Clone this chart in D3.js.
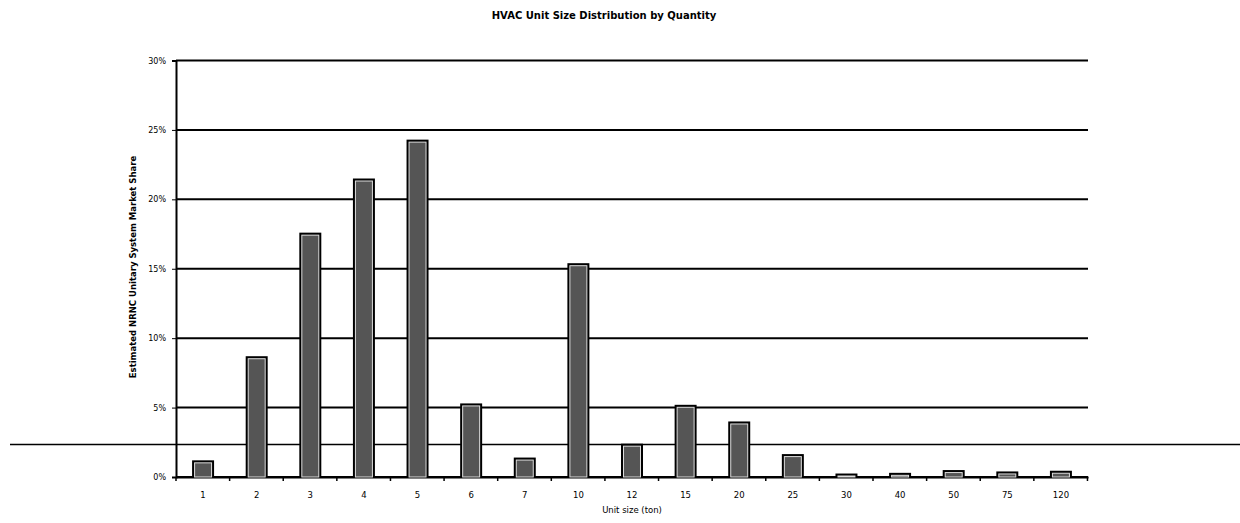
<!DOCTYPE html>
<html><head><meta charset="utf-8">
<script src="https://cdn.jsdelivr.net/npm/d3@7"></script>
<style>body{margin:0;background:#fff}svg{display:block}</style>
</head><body>
<svg id="c" width="1240" height="523"></svg>
<script>
const categories = ["1","2","3","4","5","6","7","10","12","15","20","25","30","40","50","75","120"];
const shares = [1.2, 8.7, 17.6, 21.5, 24.3, 5.3, 1.4, 15.4, 2.4, 5.2, 4.0, 1.65, 0.25, 0.3, 0.5, 0.4, 0.45];
const yTicks = [0, 5, 10, 15, 20, 25, 30];
const title = "HVAC Unit Size Distribution by Quantity";
const xTitle = "Unit size (ton)";
const yTitle = "Estimated NRNC Unitary System Market Share";

const svg = d3.select("#c");
const L = 176, R = 1088, T = 60.5, B = 477;
const x = d3.scaleBand().domain(categories).range([L, R]).paddingInner(0.59).paddingOuter(0.3);
const y = d3.scaleLinear().domain([0, 30]).range([B, T]);
const font = "Verdana, 'DejaVu Sans', sans-serif";

// gridlines
svg.append("g").selectAll("line").data(yTicks).join("line")
  .attr("x1", L).attr("x2", R).attr("y1", d => y(d)).attr("y2", d => y(d))
  .attr("stroke", "#000").attr("stroke-width", 2);

// stray scan line
svg.append("line").attr("x1", 10).attr("x2", 1240).attr("y1", 444.5).attr("y2", 444.5)
  .attr("stroke", "#000").attr("stroke-width", 1.6);

// y axis
const yAxis = d3.axisLeft(y).tickValues(yTicks).tickFormat(d => d + "%").tickSize(4).tickPadding(6);
const gy = svg.append("g").attr("transform", `translate(${L},0)`).call(yAxis);
gy.select(".domain").attr("stroke-width", 2);
gy.selectAll("text").attr("font-family", font).attr("font-size", 8).attr("fill", "#000");

// x axis
const xAxis = d3.axisBottom(x).tickSize(0).tickPadding(15);
const gx = svg.append("g").attr("transform", `translate(0,${B})`).call(xAxis);
gx.select(".domain").attr("stroke-width", 2);
gx.selectAll("text").attr("font-family", font).attr("font-size", 8.5).attr("fill", "#000");
// tick marks between categories
const step = x.step();
svg.append("g").selectAll("line").data(d3.range(categories.length + 1)).join("line")
  .attr("x1", i => L + i * step).attr("x2", i => L + i * step)
  .attr("y1", B).attr("y2", B + 4).attr("stroke", "#000").attr("stroke-width", 1.5);

// bars
const bars = svg.append("g");
bars.selectAll("rect.o").data(shares).join("rect").attr("class", "o")
  .attr("x", (d, i) => x(categories[i]))
  .attr("y", d => y(d))
  .attr("width", x.bandwidth())
  .attr("height", d => B - y(d))
  .attr("fill", "#000");
bars.selectAll("rect.i").data(shares).join("rect").attr("class", "i")
  .attr("x", (d, i) => x(categories[i]) + 2.5)
  .attr("y", d => Math.min(y(d) + 2.5, B - 1))
  .attr("width", x.bandwidth() - 5)
  .attr("height", d => Math.max(0, B - y(d) - 2.5))
  .attr("fill", "#555").attr("stroke", "#ddd").attr("stroke-width", 1);

// titles
svg.append("text").attr("x", 604).attr("y", 19).attr("text-anchor", "middle")
  .attr("font-family", font).attr("font-size", 10).attr("font-weight", "bold").text(title);
svg.append("text").attr("x", 632).attr("y", 513).attr("text-anchor", "middle")
  .attr("font-family", font).attr("font-size", 8.5).text(xTitle);
svg.append("text").attr("transform", "translate(136,267) rotate(-90)").attr("text-anchor", "middle")
  .attr("font-family", font).attr("font-size", 8.5).attr("font-weight", "bold").text(yTitle);
</script>
</body></html>
